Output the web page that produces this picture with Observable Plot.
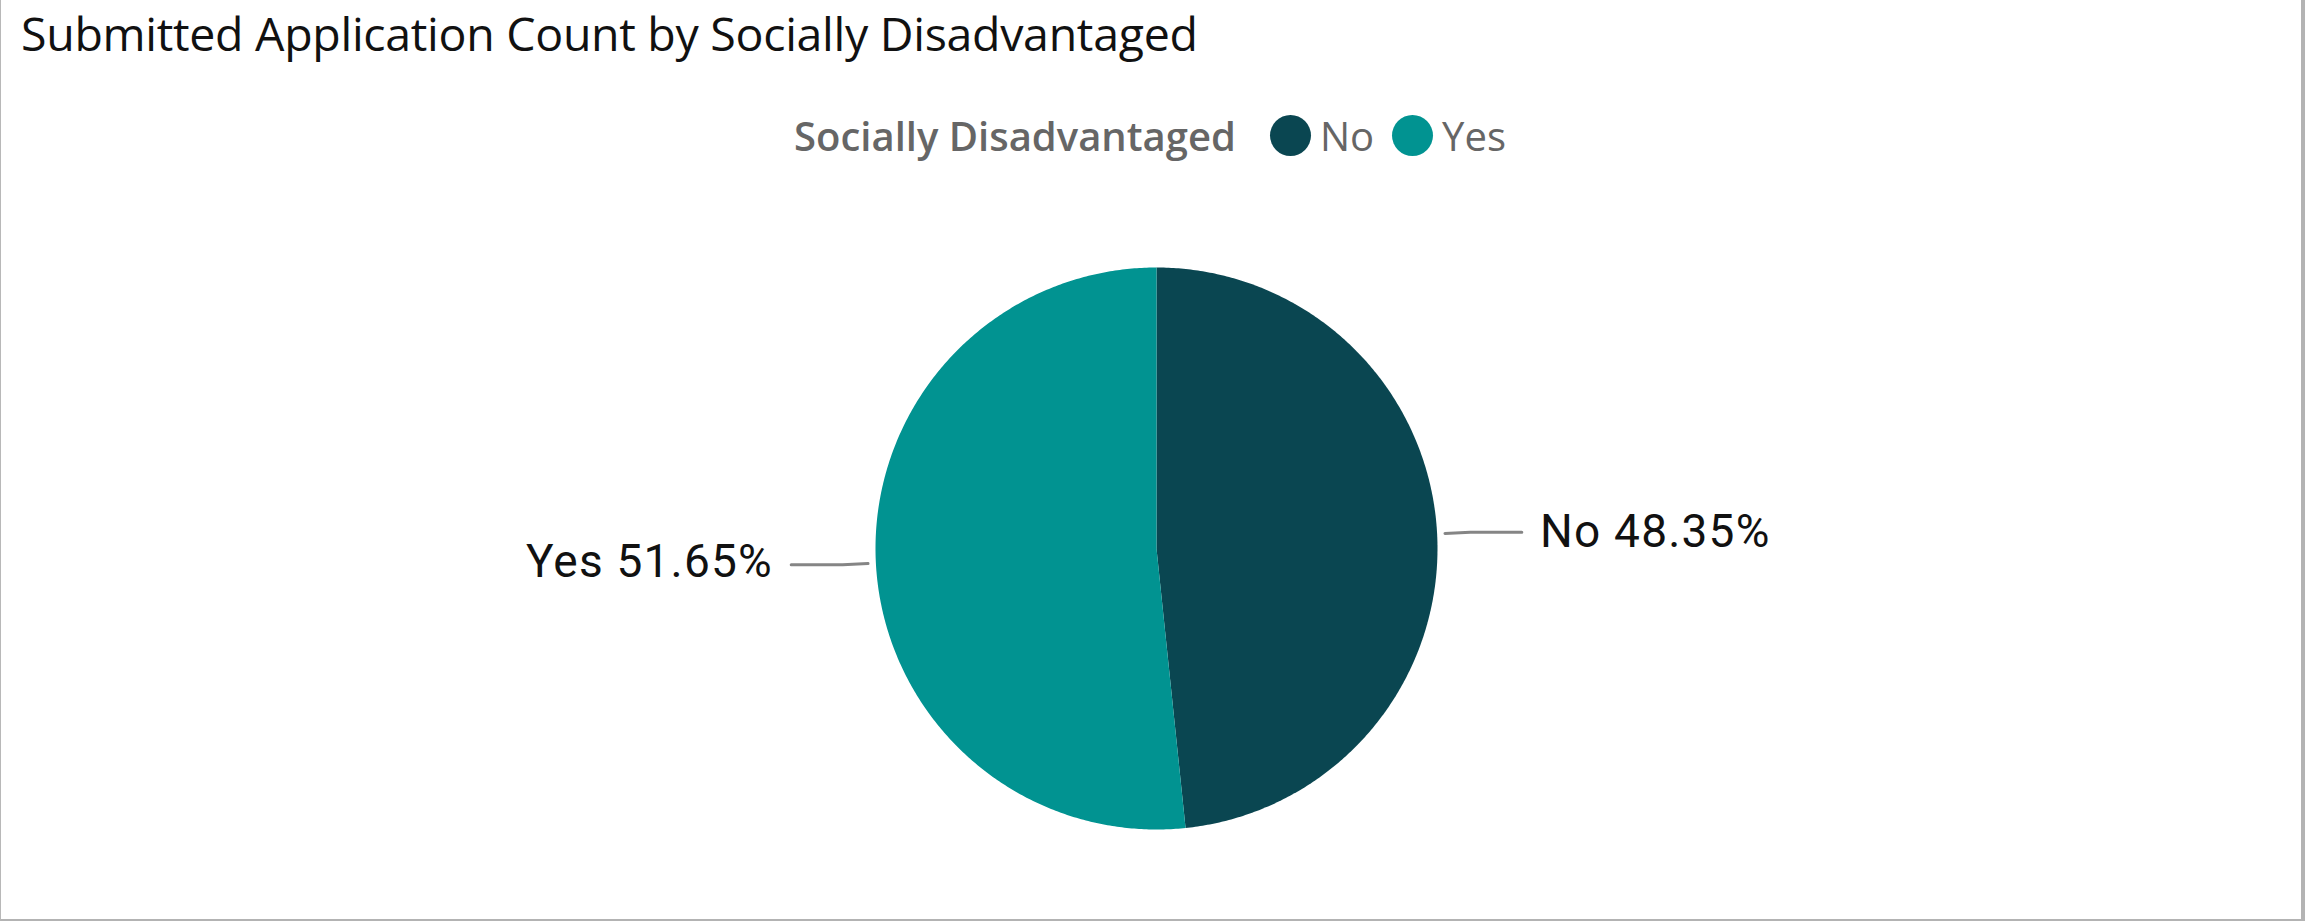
<!DOCTYPE html>
<html><head><meta charset="utf-8">
<script src="https://cdn.jsdelivr.net/npm/d3@7"></script>
<script src="https://cdn.jsdelivr.net/npm/@observablehq/plot@0.6"></script>
<style>
html,body{margin:0;padding:0;background:#fff;}
#frame{position:relative;width:2305px;height:921px;box-sizing:border-box;border-left:1px solid #b8b8b8;border-right:4px solid #b3b3b3;border-bottom:2px solid #b3b3b3;overflow:hidden;background:#fff}
#title{position:absolute;left:20px;top:1px;font-family:"Open Sans";font-size:46.5px;color:#111;white-space:nowrap;letter-spacing:-0.3px}
#legend{position:absolute;top:108px;left:793px;display:flex;align-items:center;font-family:"Open Sans";font-size:40px;white-space:nowrap}
#legend .lt{color:#666;font-weight:600;margin-right:34px}
#legend .sw{width:41px;height:41px;border-radius:50%;display:inline-block;margin-right:9px}
#legend .it{color:#666;margin-right:18px}
#chart{position:absolute;left:0;top:190px}
</style></head>
<body>
<div id="frame">
<div id="title"></div>
<div id="legend"></div>
<div id="chart"></div>
</div>
<script>
const titleText = "Submitted Application Count by Socially Disadvantaged";
const legendTitle = "Socially Disadvantaged";
const categories = ["No", "Yes"];
const percents = [48.35, 51.65];
const colors = ["#0a4651", "#019391"];

document.getElementById("title").textContent = titleText;
const lg = document.getElementById("legend");
lg.innerHTML = `<span class="lt">${legendTitle}</span>` +
  categories.map((c, i) => `<span class="sw" style="background:${colors[i]}"></span><span class="it">${c}</span>`).join("");

// build slices (angle measured clockwise from top)
const total = d3.sum(percents);
let acc = 0;
const slices = categories.map((c, i) => {
  const a0 = acc / total * 2 * Math.PI;
  acc += percents[i];
  const a1 = acc / total * 2 * Math.PI;
  return {cat: c, pct: percents[i], a0, a1, mid: (a0 + a1) / 2};
});
const piePts = [];
for (const s of slices) {
  piePts.push({cat: s.cat, x: 0, y: 0});
  const n = Math.max(2, Math.ceil((s.a1 - s.a0) / (Math.PI / 360)));
  for (let k = 0; k <= n; k++) {
    const a = s.a0 + (s.a1 - s.a0) * k / n;
    piePts.push({cat: s.cat, x: Math.sin(a), y: Math.cos(a)});
  }
}
// leader lines
const leaderPts = [];
const labels = [];
for (const s of slices) {
  const sx = Math.sin(s.mid), sy = Math.cos(s.mid);
  const side = sx >= 0 ? 1 : -1;
  const x0 = 1.028 * sx, y0 = 1.028 * sy;
  const xe = side * 1.30;
  leaderPts.push({cat: s.cat, x: x0, y: y0});
  leaderPts.push({cat: s.cat, x: x0 + side * 0.09, y: y0 + 0.005 * side});
  leaderPts.push({cat: s.cat, x: xe, y: y0 + 0.005 * side});
  labels.push({cat: s.cat, side, x: side * 1.365, y: y0, text: `${s.cat} ${s.pct.toFixed(2)}%`});
}

const cx = 1155, cy = 358, R = 281;
const labelStyle = {fontSize: 46, fontFamily: "Roboto", fontWeight: 400, fill: "#111", dy: -1};
const chart = Plot.plot({
  width: 2300, height: 720,
  margin: 0,
  x: {domain: [-1, 1], range: [cx - R, cx + R], axis: null},
  y: {domain: [-1, 1], range: [cy + R, cy - R], axis: null},
  color: {domain: categories, range: colors},
  style: {background: "transparent"},
  marks: [
    Plot.line(piePts, {x: "x", y: "y", z: "cat", fill: "cat", stroke: "none", curve: "linear-closed"}),
    Plot.line(leaderPts, {x: "x", y: "y", z: "cat", stroke: "#858585", strokeWidth: 3}),
    Plot.text(labels.filter(d => d.side > 0), {x: "x", y: "y", text: "text", textAnchor: "start", ...labelStyle}),
    Plot.text(labels.filter(d => d.side < 0), {x: "x", y: "y", text: "text", textAnchor: "end", ...labelStyle})
  ]
});
chart.querySelectorAll("text").forEach(t => t.style.letterSpacing = "1.2px");
document.getElementById("chart").appendChild(chart);
</script>
</body></html>
